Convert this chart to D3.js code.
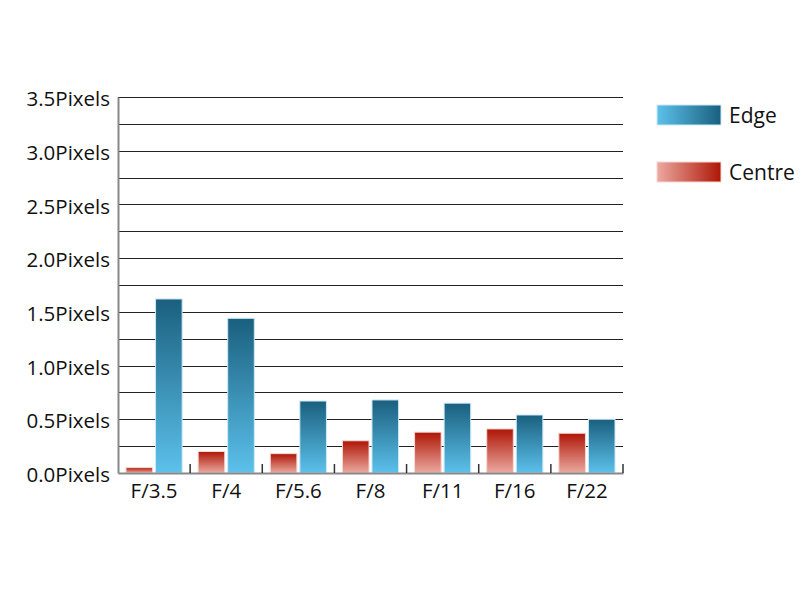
<!DOCTYPE html>
<html><head><meta charset="utf-8">
<script src="https://cdn.jsdelivr.net/npm/d3@7"></script>
<style>body{margin:0;background:#fff;} svg{display:block;}</style>
</head><body>
<svg id="chart" width="800" height="600"></svg>
<script>
const categories = ["F/3.5","F/4","F/5.6","F/8","F/11","F/16","F/22"];
const centreValues = [0.05, 0.20, 0.18, 0.30, 0.38, 0.41, 0.37];
const edgeValues = [1.62, 1.44, 0.67, 0.68, 0.65, 0.54, 0.50];
const yTicks = [0, 0.5, 1.0, 1.5, 2.0, 2.5, 3.0, 3.5];
const gridValues = [0.25,0.5,0.75,1,1.25,1.5,1.75,2,2.25,2.5,2.75,3,3.25,3.5];
const seriesNames = ["Centre","Edge"];

(function () {
const svg = d3.select("#chart");
const mLeft = 118, mRight = 623, mTop = 97, mBottom = 473;
const font = "'Open Sans', 'Liberation Sans', sans-serif";

const defs = svg.append("defs");
function grad(id, c1, c2, vertical) {
  const g = defs.append("linearGradient").attr("id", id)
    .attr("x1", 0).attr("y1", 0).attr("x2", vertical ? 0 : 1).attr("y2", vertical ? 1 : 0);
  g.append("stop").attr("offset", "0%").attr("stop-color", c1);
  g.append("stop").attr("offset", "100%").attr("stop-color", c2);
}
grad("edgeV", "#1a5f7e", "#5cc1eb", true);
grad("centreV", "#ae1606", "#eca9a0", true);
grad("edgeH", "#5cc1eb", "#1a5f7e", false);
grad("centreH", "#eca9a0", "#ae1606", false);

const y = d3.scaleLinear().domain([0, 3.5]).range([mBottom, mTop]);
const x = d3.scaleBand().domain(categories).range([mLeft, mRight]).paddingInner(0).paddingOuter(0);
const inner = d3.scaleBand().domain(seriesNames).range([8, x.bandwidth() - 8]).paddingInner(0.1);

// grid lines
svg.append("g").selectAll("line").data(gridValues).join("line")
  .attr("x1", mLeft).attr("x2", mRight)
  .attr("y1", d => Math.round(y(d)) + 0.5).attr("y2", d => Math.round(y(d)) + 0.5)
  .attr("stroke", "#222").attr("stroke-width", 1);

// bars
const groups = svg.append("g").selectAll("g").data(categories).join("g")
  .attr("transform", d => `translate(${x(d)},0)`);
groups.append("rect")
  .attr("x", inner("Centre")).attr("width", inner.bandwidth())
  .attr("y", (d, i) => y(centreValues[i])).attr("height", (d, i) => mBottom - y(centreValues[i]))
  .attr("fill", "url(#centreV)").attr("stroke", "#f6d8d4").attr("stroke-width", 1);
groups.append("rect")
  .attr("x", inner("Edge")).attr("width", inner.bandwidth())
  .attr("y", (d, i) => y(edgeValues[i])).attr("height", (d, i) => mBottom - y(edgeValues[i]))
  .attr("fill", "url(#edgeV)").attr("stroke", "#cbe9f6").attr("stroke-width", 1);

// y axis
const yAxis = svg.append("g").attr("transform", `translate(${mLeft},0)`)
  .call(d3.axisLeft(y).tickValues(yTicks).tickSize(0).tickPadding(8)
    .tickFormat(d => d3.format(".1f")(d) + "Pixels"));
yAxis.select(".domain").attr("stroke", "#888").attr("stroke-width", 2);
yAxis.selectAll("text").attr("font-family", font).attr("font-size", 20.5).attr("fill", "#111").attr("dy", "0.42em");

// x axis
const xAxis = svg.append("g").attr("transform", `translate(0,${mBottom})`)
  .call(d3.axisBottom(x).tickSize(0).tickPadding(4));
xAxis.select(".domain").attr("stroke", "#888").attr("stroke-width", 2);
xAxis.selectAll("text").attr("font-family", font).attr("font-size", 20.5).attr("fill", "#111").attr("dy", "1.0em");
// boundary ticks
const boundaries = categories.slice(1).map(c => x(c)).concat([mRight]);
svg.append("g").selectAll("line").data(boundaries).join("line")
  .attr("x1", d => d).attr("x2", d => d).attr("y1", mBottom - 9).attr("y2", mBottom)
  .attr("stroke", "#333").attr("stroke-width", 1.5);

// legend
const legendItems = [{name: "Edge", fill: "url(#edgeH)", stroke: "#cbe9f6"}, {name: "Centre", fill: "url(#centreH)", stroke: "#f6d8d4"}];
const lg = svg.append("g").selectAll("g").data(legendItems).join("g")
  .attr("transform", (d, i) => `translate(657,${105 + i * 57})`);
lg.append("rect").attr("width", 64).attr("height", 20).attr("fill", d => d.fill).attr("stroke", d => d.stroke);
lg.append("text").attr("x", 72).attr("y", 11).attr("dy", "0.35em")
  .attr("font-family", font).attr("font-size", 21).attr("fill", "#111").text(d => d.name);
})();
</script>
</body></html>
